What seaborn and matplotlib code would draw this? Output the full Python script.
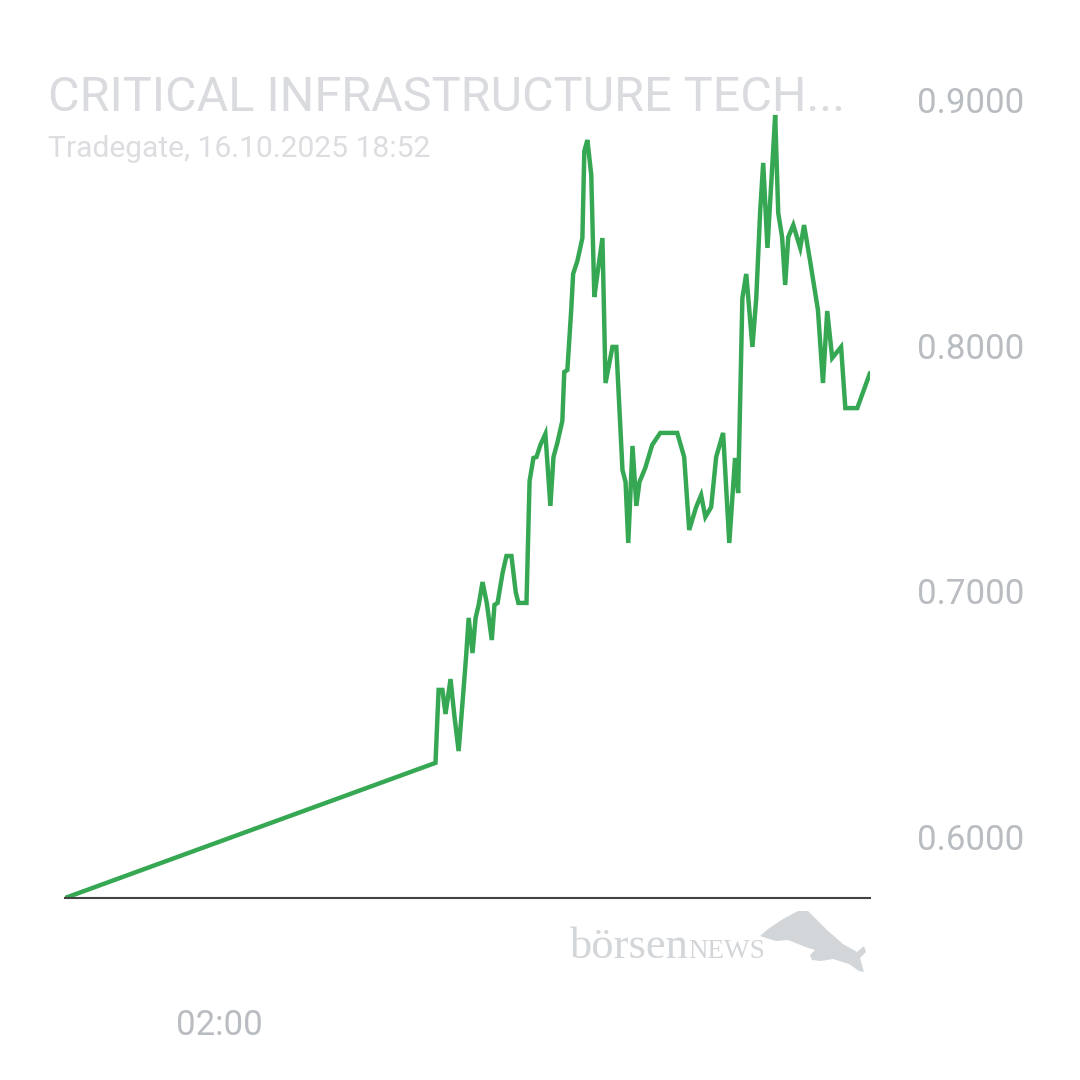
import pandas as pd
import seaborn as sns
import matplotlib.pyplot as plt
from matplotlib.patches import Polygon

# hours relative to midnight of 16.10.2025 (negative = evening before)
hours = [-2.00, 7.61, 7.69, 7.79, 7.87, 8.00, 8.10, 8.21, 8.31, 8.41,
         8.47, 8.57, 8.65, 8.73, 8.83, 8.94, 9.07, 9.14, 9.22, 9.35,
         9.45, 9.58, 9.69, 9.76, 9.97, 10.05, 10.15, 10.23, 10.33, 10.46,
         10.59, 10.67, 10.77, 10.90, 10.95, 11.03, 11.13, 11.18, 11.29, 11.42,
         11.47, 11.55, 11.65, 11.73, 11.81, 11.94, 12.02, 12.20, 12.30, 12.46,
         12.54, 12.61, 12.72, 12.82, 12.90, 13.05, 13.23, 13.44, 13.88, 14.06,
         14.19, 14.37, 14.50, 14.61, 14.76, 14.89, 15.07, 15.23, 15.38, 15.46,
         15.57, 15.67, 15.83, 15.93, 16.03, 16.11, 16.22, 16.35, 16.42, 16.50,
         16.60, 16.68, 16.76, 16.89, 17.07, 17.17, 17.33, 17.53, 17.66, 17.77,
         17.90, 18.13, 18.24, 18.55, 18.88]
prices = [0.5752, 0.6302, 0.6599, 0.6599, 0.6501, 0.6643, 0.6493, 0.6350, 0.6546, 0.6749,
          0.6892, 0.6749, 0.6892, 0.6945, 0.7038, 0.6953, 0.6802, 0.6945, 0.6953, 0.7075,
          0.7144, 0.7144, 0.6998, 0.6953, 0.6953, 0.7449, 0.7543, 0.7547, 0.7596, 0.7641,
          0.7348, 0.7547, 0.7604, 0.7694, 0.7893, 0.7901, 0.8145, 0.8292, 0.8345, 0.8438,
          0.8792, 0.8837, 0.8695, 0.8198, 0.8292, 0.8438, 0.7848, 0.7995, 0.7995, 0.7494,
          0.7445, 0.7197, 0.7592, 0.7348, 0.7445, 0.7502, 0.7596, 0.7645, 0.7645, 0.7547,
          0.7250, 0.7343, 0.7392, 0.7303, 0.7343, 0.7547, 0.7645, 0.7197, 0.7543, 0.7400,
          0.8194, 0.8292, 0.7995, 0.8194, 0.8544, 0.8744, 0.8398, 0.8744, 0.8939, 0.8540,
          0.8442, 0.8247, 0.8442, 0.8491, 0.8398, 0.8491, 0.8341, 0.8145, 0.7848, 0.8141,
          0.7950, 0.7995, 0.7746, 0.7746, 0.7889]

y_ticks = [0.6, 0.7, 0.8, 0.9]
x_ticks = [2.0]
x_tick_labels = ["02:00"]

title = "CRITICAL INFRASTRUCTURE TECH..."
subtitle = "Tradegate, 16.10.2025 18:52"

sns.set_style("white")
plt.rcParams["font.family"] = ["Roboto", "DejaVu Sans"]

df = pd.DataFrame({"time": hours, "price": prices})

fig = plt.figure(figsize=(10.8, 10.8), dpi=100)
ax = fig.add_axes([65 / 1080, 182 / 1080, 805 / 1080, 798 / 1080])

sns.lineplot(data=df, x="time", y="price", ax=ax, color="#36a853",
             linewidth=3.2, solid_joinstyle="miter")

ax.set_xlim(min(hours), max(hours))
ax.set_ylim(min(prices), 0.9)
ax.set_xlabel("")
ax.set_ylabel("")

for side in ["top", "left", "right"]:
    ax.spines[side].set_visible(False)
ax.spines["bottom"].set_color("#444444")
ax.spines["bottom"].set_linewidth(1.5)

ax.yaxis.tick_right()
ax.set_yticks(y_ticks)
ax.set_yticklabels([f"{v:.4f}" for v in y_ticks])
ax.tick_params(axis="y", length=0, pad=34, labelsize=25, labelcolor="#b9bcc0")
ax.set_xticks(x_ticks)
ax.set_xticklabels(x_tick_labels)
ax.tick_params(axis="x", length=0, pad=80, labelsize=25, labelcolor="#b9bcc0")

fig.text(48 / 1080, 1 - 111 / 1080, title, fontsize=35, color="#d9dbde",
         va="baseline", ha="left")
fig.text(48 / 1080, 1 - 157 / 1080, subtitle, fontsize=21.6, color="#dcdde0",
         va="baseline", ha="left")

# börsenNEWS watermark
serif = ["Liberation Serif", "DejaVu Serif"]
logo_y = 1 - 958 / 1080
word = fig.text(570 / 1080, logo_y, "börsen", fontsize=32, color="#d3d6d9",
                family=serif, va="baseline", ha="left")
fig.canvas.draw()
word_end = word.get_window_extent().x1 / fig.bbox.width
fig.text(word_end, logo_y, "NEWS", fontsize=19.5, color="#d3d6d9",
         family=serif, va="baseline", ha="left")
bull_px = [(760, 936), (768, 929), (783, 919), (798, 911), (808, 911), (827, 930),
           (843, 944), (857, 952), (864, 946), (866, 952), (860, 958), (864, 972),
           (859, 971), (849, 964), (833, 959), (821, 961), (812, 960), (810, 955),
           (815, 950), (808, 948), (798, 944), (788, 940), (776, 941), (766, 938)]
bull = Polygon([(px / 1080, 1 - py / 1080) for px, py in bull_px], closed=True,
               transform=fig.transFigure, facecolor="#d3d6d9", edgecolor="none")
fig.patches.append(bull)

fig.savefig("out.png", dpi=100, facecolor="white")
